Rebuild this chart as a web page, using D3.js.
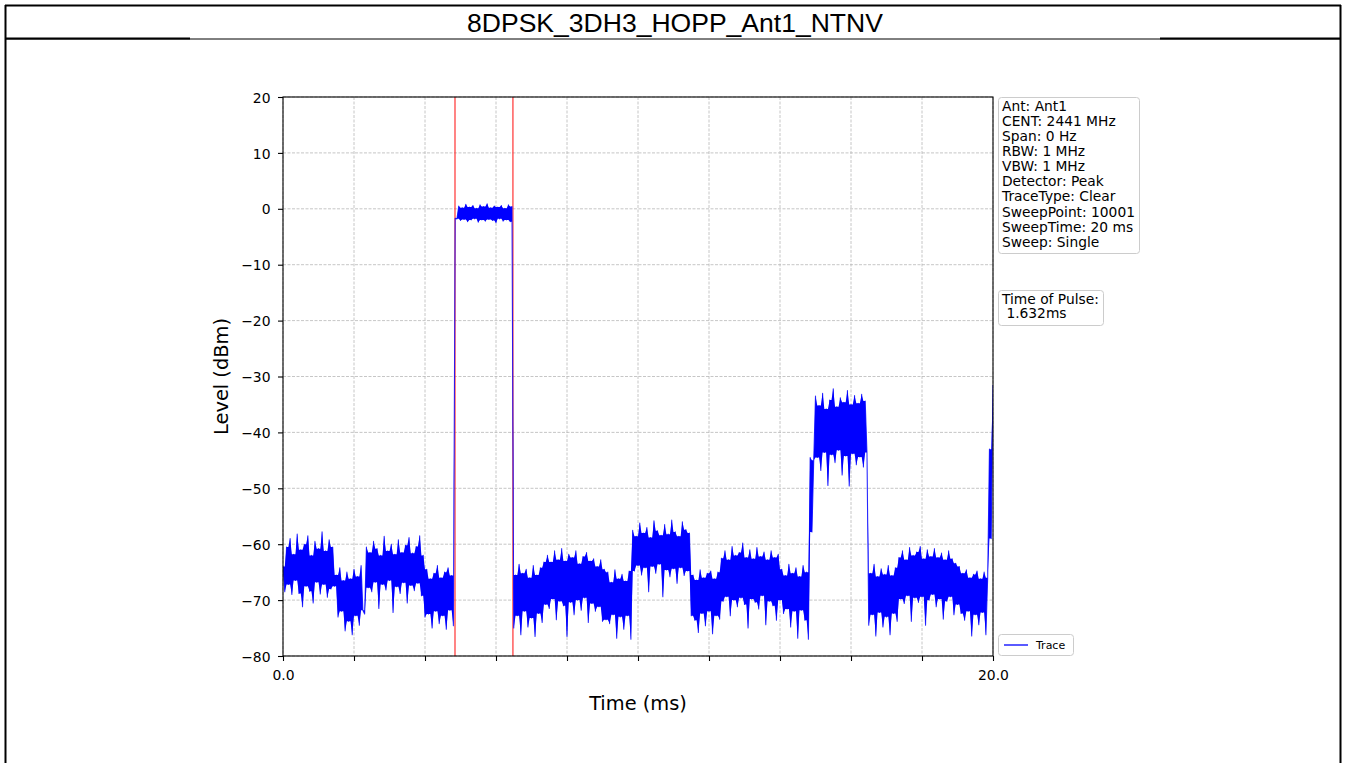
<!DOCTYPE html>
<html>
<head>
<meta charset="utf-8">
<script src="https://cdn.jsdelivr.net/npm/d3@7"></script>
<style>
  body { margin: 0; background: #fff; }
  svg { display: block; }
  text { font-family: "DejaVu Sans", sans-serif; fill: #000; }
</style>
</head>
<body>
<svg id="chart" width="1346" height="763"></svg>
<script>
// ---------------- data ----------------
const chartTitle = "8DPSK_3DH3_HOPP_Ant1_NTNV";
const xAxisLabel = "Time (ms)";
const yAxisLabel = "Level (dBm)";
const xDomain = [0, 20];
const yDomain = [-80, 20];
const xTickValues = [0, 2, 4, 6, 8, 10, 12, 14, 16, 18, 20];
const xTickLabels = ["0.0", "", "", "", "", "", "", "", "", "", "20.0"];
const yTickValues = [20, 10, 0, -10, -20, -30, -40, -50, -60, -70, -80];
const pulseMarkers = [4.845, 6.477];
const infoLines = ["Ant: Ant1", "CENT: 2441 MHz", "Span: 0 Hz", "RBW: 1 MHz", "VBW: 1 MHz",
  "Detector: Peak", "TraceType: Clear", "SweepPoint: 10001", "SweepTime: 20 ms", "Sweep: Single"];
const pulseLines = ["Time of Pulse:", " 1.632ms"];
const legendLabel = "Trace";

// trace (decimated peak envelope, one value every traceStep ms)
const traceStep = 0.05;
const traceLevels = [
  // 0 - 1.45 ms
  -64, -68.5, -60.5, -67.2, -59, -69, -61.8, -66.5, -58.2, -68.8, -61, -71.2, -60, -67.5, -58.5, -68.4, -62, -70.5, -59.5, -66.8,
  -60.8, -68.9, -57.8, -67.2, -61.2, -69.5, -59.2, -68, -60.5, -67.5,
  // 1.5 - 2.3
  -65.5, -73, -64.2, -72, -66.5, -75.5, -65, -73.8, -66.2, -76.2, -64.5, -72.8, -65.8, -74.5, -63.8, -71.8, -72.5,
  // 2.35 - 3.95
  -60.5, -67.8, -61.5, -68.5, -59.5, -66.8, -60.8, -71.5, -62, -67.2, -58.6, -68.2, -61.2, -66.5, -60, -72.2, -61.8, -67.6, -59.2, -68.8,
  -61.5, -66.9, -60.2, -70.5, -58.8, -67.4, -61.6, -68.3, -60.4, -67, -58.5, -69.2, -62,
  // 4.0 - 4.8
  -73, -64.5, -72.5, -66.2, -75, -65.2, -72, -63.8, -74.2, -66, -72.8, -65, -75.2, -64.2, -71.8, -65.6, -74.6,
  // 4.85 - 6.45 (pulse)
  -1.7, -1.8, 0.5, -2.1, 0.2, -1.9, 0.8, -2.3, 0.3, -2.0, 0.6, -1.8, 0.1, -2.4, 0.7, -2.0, 0.4, -2.2, 0.9, -1.9,
  0.2, -2.1, 0.5, -2.5, 0.3, -1.8, 0.6, -2.2, 0.1, -2.0, 0.7, -2.3, 0.4,
  // 6.5 - 7.35
  -75, -65.5, -72.8, -63.6, -76.2, -65.2, -72, -64.5, -74.8, -66, -73.2, -63.8, -76.5, -65.5, -72.4, -64.2, -74, -63.2,
  // 7.4 - 9.05
  -70.8, -62, -71.5, -63.2, -69.8, -61.2, -73.5, -62.8, -70.2, -60.8, -71, -63, -76.5, -61.8, -70.4, -62.4, -72.6, -61.2, -70, -63.5,
  -71.8, -62.2, -69.6, -61.5, -74, -63, -70.6, -62.6, -72, -64, -71.2, -62.8, -73.8, -64.5,
  // 9.1 - 9.8
  -73.5, -65, -74.2, -66.8, -72.6, -64.6, -76.8, -66.2, -73, -65.4, -75.2, -66.6, -72.8, -64.8, -77,
  // 9.85 - 11.45
  -57.5, -64.8, -58.6, -63.8, -56.2, -65.5, -58, -64.2, -57, -68.5, -58.8, -64, -55.8, -65.2, -57.6, -63.6, -58.4, -69.4, -56.5, -64.6,
  -58.2, -65.8, -55.7, -64.4, -57.8, -67, -58.6, -64.2, -56, -65.6, -57.4, -64.8, -58,
  // 11.5 - 12.3
  -72.8, -65.5, -73.6, -66.4, -75.8, -64.6, -72.4, -66, -74.6, -65.2, -72, -64.8, -76, -66.2, -72.8, -65, -73.4,
  // 12.35 - 14.0
  -62.5, -70.2, -61.2, -69.4, -62.8, -72.8, -60.4, -70, -62, -71.2, -61.5, -69.6, -59.8, -70.8, -62.4, -75, -61, -69.8, -62.6, -70.4,
  -60.6, -71.6, -62.2, -69.2, -61.4, -74.4, -62.8, -70.2, -61.2, -71, -62.4, -73.6, -61.8, -70,
  // 14.05 - 14.8
  -64.5, -72.4, -65.6, -71.6, -63.6, -74.8, -65.2, -72, -64.2, -76.8, -65.8, -71.8, -63.8, -73.6, -65, -77,
  // 14.85 - 14.95
  -44.5, -57.8, -45,
  // 15.0 - 16.45
  -33.5, -44.5, -35.2, -46.8, -33, -43.6, -35.8, -49.5, -34.2, -44, -32.2, -45.4, -35.4, -43.2, -33.8, -47.6, -34.6, -44.2, -32.5, -49.6,
  -35, -43.8, -33.4, -45.8, -34.8, -44.4, -33.2, -46.2, -34.4, -43.6,
  // 16.5 - 17.3
  -74.5, -65.2, -72.6, -63.6, -76.4, -65.8, -72.2, -64.4, -74.8, -65.4, -73, -63.8, -76.2, -65.6, -72.4, -64.2, -73.8,
  // 17.35 - 19.05
  -62.4, -69.8, -61.2, -70.6, -62.8, -69.2, -60.6, -73.8, -62, -69.6, -61.4, -70.4, -60.4, -69.4, -62.6, -74.5, -61, -70, -62.2, -69,
  -60.8, -71.2, -62.4, -69.8, -61.6, -73.4, -62.8, -70.2, -61.2, -69.4, -62.6, -72.6, -63.4, -70.8, -64,
  // 19.1 - 19.85
  -72.4, -65.2, -73.6, -64.6, -72, -66, -76.4, -65.4, -72.6, -64.8, -74.4, -66.2, -72.2, -65, -76.2, -66,
  // 19.9 - 20.0
  -43, -59, -31.5
];

// ---------------- drawing ----------------
const svg = d3.select("#chart");
const W = 1346, H = 763;
const plot = { left: 283, right: 993, top: 97, bottom: 656 };

const x = d3.scaleLinear().domain(xDomain).range([plot.left, plot.right]);
const y = d3.scaleLinear().domain(yDomain).range([plot.bottom, plot.top]);

// page frame
const frame = svg.append("g").attr("stroke", "#000").attr("fill", "none");
frame.append("line").attr("x1", 5).attr("x2", 1341).attr("y1", 5.5).attr("y2", 5.5).attr("stroke-width", 2);
frame.append("line").attr("x1", 5.5).attr("x2", 5.5).attr("y1", 5).attr("y2", H).attr("stroke-width", 2);
frame.append("line").attr("x1", 1340.5).attr("x2", 1340.5).attr("y1", 5).attr("y2", H).attr("stroke-width", 2);
frame.append("line").attr("x1", 5).attr("x2", 1341).attr("y1", 39).attr("y2", 39).attr("stroke-width", 1);
frame.append("line").attr("x1", 5).attr("x2", 190).attr("y1", 38.5).attr("y2", 38.5).attr("stroke-width", 2);
frame.append("line").attr("x1", 1160).attr("x2", 1341).attr("y1", 38.5).attr("y2", 38.5).attr("stroke-width", 2);

// title
const title = svg.append("text")
  .attr("x", 675).attr("y", 32)
  .attr("text-anchor", "middle")
  .style("font-family", "'Liberation Sans', Arial, sans-serif")
  .style("font-size", "26px")
  .text(chartTitle);
const tl = title.node().getComputedTextLength();
title.style("font-size", (26 * 416 / tl).toFixed(2) + "px");

// grid
const grid = svg.append("g").attr("stroke", "#b8b8b8").attr("stroke-width", 0.8)
  .attr("stroke-dasharray", "3,1.5");
grid.selectAll("line.gy").data(yTickValues).join("line")
  .attr("x1", plot.left).attr("x2", plot.right)
  .attr("y1", d => y(d)).attr("y2", d => y(d));
grid.selectAll("line.gx").data(xTickValues).join("line")
  .attr("y1", plot.top).attr("y2", plot.bottom)
  .attr("x1", d => x(d)).attr("x2", d => x(d));

// clip
svg.append("clipPath").attr("id", "clip").append("rect")
  .attr("x", plot.left).attr("y", plot.top)
  .attr("width", plot.right - plot.left).attr("height", plot.bottom - plot.top);

// pulse markers (under trace)
svg.append("g").attr("clip-path", "url(#clip)")
  .selectAll("line").data(pulseMarkers).join("line")
  .attr("x1", d => x(d)).attr("x2", d => x(d))
  .attr("y1", plot.top).attr("y2", plot.bottom)
  .attr("stroke", "#ff2020").attr("stroke-width", 1.1);

// trace: dense band (filled between neighbouring extremes) + the trace line itself
const n = traceLevels.length;
const bandTop = traceLevels.map((v, i) => {
  const a = traceLevels[Math.max(0, i - 1)], b = traceLevels[Math.min(n - 1, i + 1)];
  return Math.max(v, Math.min(a, b));
});
const bandBottom = traceLevels.map((v, i) => {
  const a = traceLevels[Math.max(0, i - 1)], b = traceLevels[Math.min(n - 1, i + 1)];
  return Math.min(v, Math.max(a, b));
});
const area = d3.area()
  .x((d, i) => x(i * traceStep))
  .y0((d, i) => y(bandBottom[i]))
  .y1((d, i) => y(bandTop[i]));
svg.append("path")
  .attr("clip-path", "url(#clip)")
  .datum(traceLevels)
  .attr("d", area)
  .attr("fill", "#0000ff");

const line = d3.line()
  .x((d, i) => x(i * traceStep))
  .y(d => y(d));
svg.append("path")
  .attr("clip-path", "url(#clip)")
  .datum(traceLevels)
  .attr("d", line)
  .attr("fill", "none")
  .attr("stroke", "#0000ff")
  .attr("stroke-opacity", 0.8)
  .attr("stroke-width", 1.1)
  .attr("stroke-linejoin", "round");

// axes
const fmt = d => d < 0 ? "\u2212" + Math.abs(d) : String(d);
const yAxis = svg.append("g").attr("transform", `translate(${plot.left},0)`)
  .call(d3.axisLeft(y).tickValues(yTickValues).tickSizeInner(5).tickSizeOuter(0).tickPadding(7.5).tickFormat(fmt));
yAxis.select(".domain").remove();
yAxis.selectAll(".tick line").attr("stroke", "#000").attr("stroke-width", 1.1);
yAxis.selectAll(".tick text").attr("dy", "0.37em").style("font-size", "13.9px").style("font-family", "'DejaVu Sans', sans-serif").attr("fill", "#222");

const xAxis = svg.append("g").attr("transform", `translate(0,${plot.bottom})`)
  .call(d3.axisBottom(x).tickValues(xTickValues).tickSizeInner(5).tickSizeOuter(0).tickPadding(9.6)
    .tickFormat((d, i) => xTickLabels[i]));
xAxis.select(".domain").remove();
xAxis.selectAll(".tick line").attr("stroke", "#000").attr("stroke-width", 1.1);
xAxis.selectAll(".tick text").style("font-size", "13.9px").style("font-family", "'DejaVu Sans', sans-serif").attr("fill", "#222");

// plot frame
svg.append("rect")
  .attr("x", plot.left).attr("y", plot.top)
  .attr("width", plot.right - plot.left).attr("height", plot.bottom - plot.top)
  .attr("fill", "none").attr("stroke", "#000").attr("stroke-width", 1.1);

// axis labels
svg.append("text")
  .attr("x", (plot.left + plot.right) / 2).attr("y", 710)
  .attr("text-anchor", "middle")
  .style("font-size", "19.4px")
  .text(xAxisLabel);
svg.append("text")
  .attr("transform", `translate(228,${(plot.top + plot.bottom) / 2}) rotate(-90)`)
  .attr("text-anchor", "middle")
  .style("font-size", "19.4px")
  .text(yAxisLabel);

// legend boxes
function legendBox(x0, y0, w, h) {
  svg.append("rect")
    .attr("x", x0 + 0.5).attr("y", y0 + 0.5).attr("width", w).attr("height", h)
    .attr("rx", 3).attr("ry", 3)
    .attr("fill", "#fff").attr("fill-opacity", 0.8)
    .attr("stroke", "#cccccc").attr("stroke-width", 1);
}
legendBox(998, 97, 141, 156);
svg.append("g").selectAll("text").data(infoLines).join("text")
  .attr("x", 1002).attr("y", (d, i) => 110.8 + i * 15.1)
  .style("font-size", "13.8px")
  .text(d => d);

legendBox(998, 290, 105, 35);
svg.append("g").selectAll("text").data(pulseLines).join("text")
  .attr("x", 1002).attr("y", (d, i) => 304 + i * 14.4)
  .attr("xml:space", "preserve")
  .style("white-space", "pre")
  .style("font-size", "13.8px")
  .text(d => d);

legendBox(998, 634, 75, 21);
svg.append("line")
  .attr("x1", 1004).attr("x2", 1028).attr("y1", 645).attr("y2", 645)
  .attr("stroke", "#0000ff").attr("stroke-width", 1.3);
svg.append("text")
  .attr("x", 1036).attr("y", 649)
  .style("font-size", "11px")
  .text(legendLabel);
</script>
</body>
</html>
